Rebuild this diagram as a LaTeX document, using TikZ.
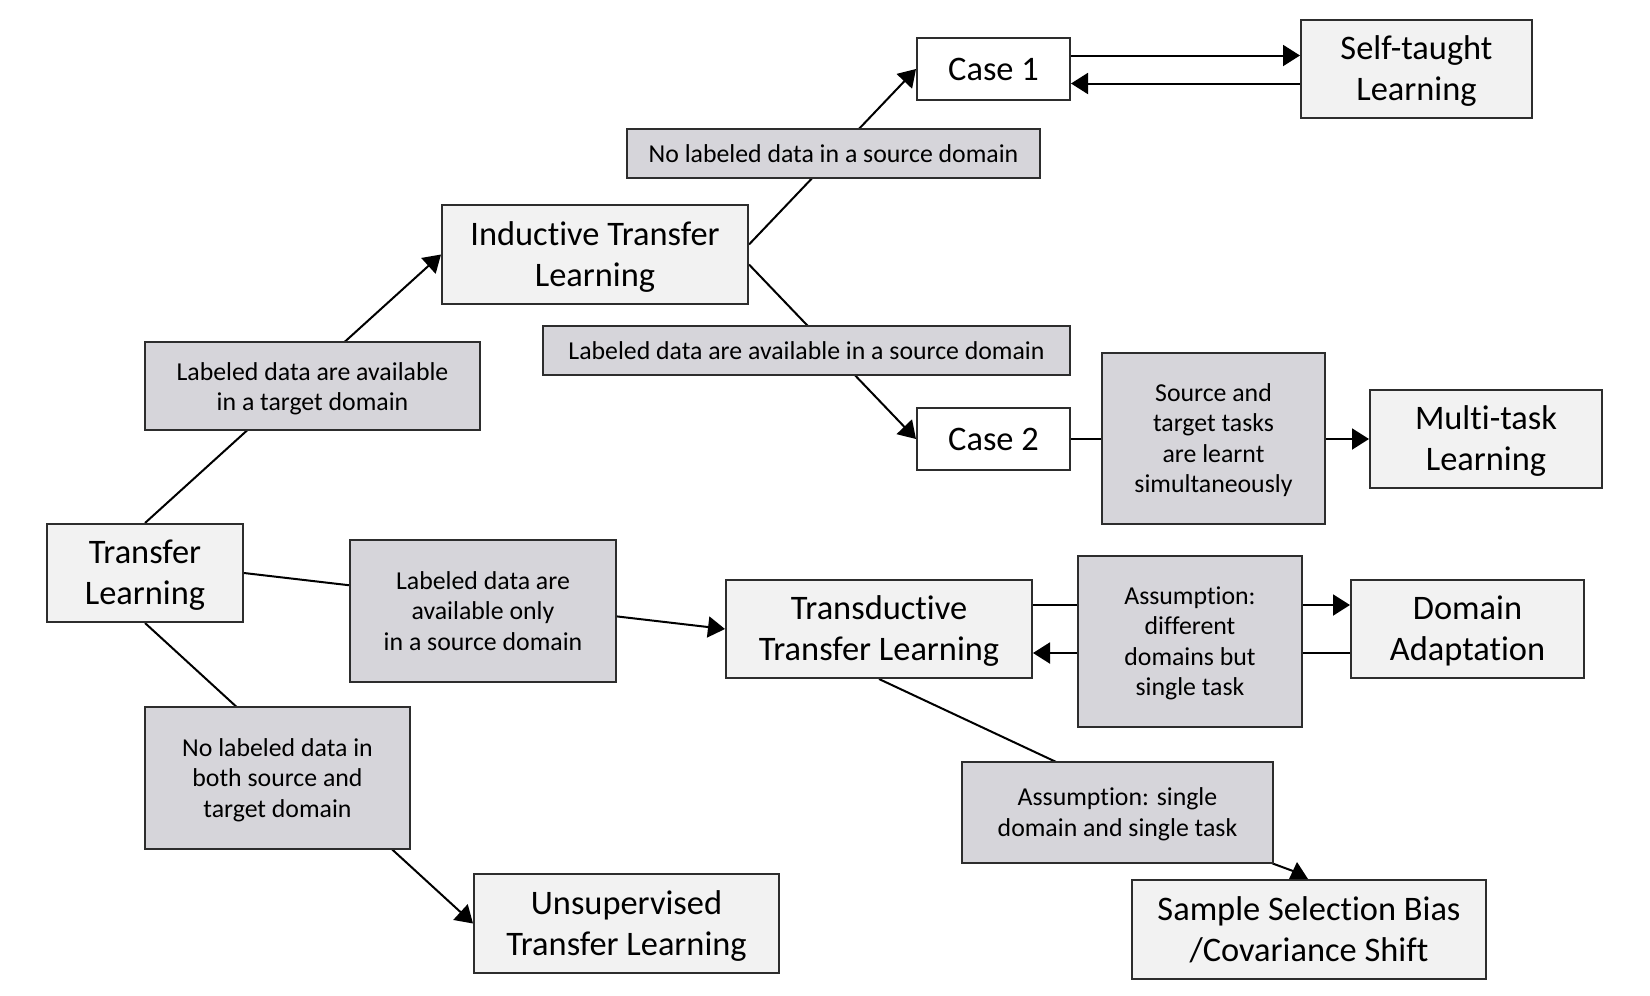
\documentclass[tikz,border=0pt]{standalone}
\usepackage{fontspec}
\setmainfont{Carlito}[Ligatures={NoCommon}]
\usetikzlibrary{arrows.meta,calc}
\pgfdeclarelayer{edges}
\pgfsetlayers{edges,main}
\definecolor{lightfill}{RGB}{242,242,242}
\definecolor{labfill}{RGB}{214,213,218}
\definecolor{bordercol}{RGB}{45,45,45}
\newcommand{\lowtext}[2]{\raisebox{-#1}[\height][\depth]{\begin{tabular}{@{}c@{}}#2\end{tabular}}}
\tikzset{
  basebox/.style={draw=bordercol, line width=1pt, align=center, inner sep=0pt},
  bigbox/.style={basebox, fill=lightfill, font=\fontsize{17.2}{20.5}\selectfont},
  casebox/.style={basebox, fill=white, font=\fontsize{17.2}{20.5}\selectfont},
  labbox/.style={basebox, fill=labfill, font=\fontsize{12.9}{15.25}\selectfont},
  conn/.style={line width=1pt, draw=black},
  arr/.style={conn, -{Triangle[length=8.5pt,width=10.5pt]}},
}
\begin{document}
\begin{tikzpicture}[x=0.5pt,y=-0.5pt]
\useasboundingbox (0,0) rectangle (1650,996);
% main boxes
\node[bigbox, minimum width=98pt, minimum height=49pt] (tl) at (145,573) {\lowtext{1.5pt}{Transfer\\Learning}};
\node[bigbox, minimum width=153pt, minimum height=49.5pt] (ind) at (595,254.5) {\lowtext{1.5pt}{Inductive Transfer\\Learning}};
\node[casebox, minimum width=76.5pt, minimum height=31pt] (case1) at (993.5,69) {Case 1};
\node[bigbox, minimum width=115.5pt, minimum height=49pt] (self) at (1416.5,69) {\lowtext{1.5pt}{Self-taught\\Learning}};
\node[casebox, minimum width=76.5pt, minimum height=31pt] (case2) at (993.5,439) {Case 2};
\node[bigbox, minimum width=116pt, minimum height=49pt] (multi) at (1486,439) {\lowtext{1.5pt}{Multi-task\\Learning}};
\node[bigbox, minimum width=153pt, minimum height=49pt] (trans) at (879,629) {\lowtext{1.5pt}{Transductive\\Transfer Learning}};
\node[bigbox, minimum width=116.5pt, minimum height=49pt] (da) at (1467.5,629) {\lowtext{1.5pt}{Domain\\Adaptation}};
\node[bigbox, minimum width=177pt, minimum height=49.5pt] (sample) at (1309,929.5) {\lowtext{1.5pt}{Sample Selection Bias\\/Covariance Shift}};
\node[bigbox, minimum width=152.5pt, minimum height=49.5pt] (unsup) at (626.5,923.5) {\lowtext{1.5pt}{Unsupervised\\Transfer Learning}};
% label boxes
\node[labbox, minimum width=167.5pt, minimum height=44pt] (lab1) at (312.5,386) {\lowtext{1.8pt}{Labeled data are available\\in a target domain}};
\node[labbox, minimum width=206.5pt, minimum height=24.5pt] (lab2) at (833.5,153.5) {No labeled data in a source domain};
\node[labbox, minimum width=263.5pt, minimum height=24.5pt] (lab3) at (806.5,350.5) {Labeled data are available in a source domain};
\node[labbox, minimum width=111.5pt, minimum height=85.5pt] (lab4) at (1213.5,438.5) {\lowtext{1.2pt}{Source and\\target tasks\\are learnt\\simultaneously}};
\node[labbox, minimum width=133pt, minimum height=71pt] (lab5) at (483,611) {\lowtext{1.2pt}{Labeled data are\\available only\\in a source domain}};
\node[labbox, minimum width=112pt, minimum height=85.5pt] (lab6) at (1190,641.5) {\lowtext{1.2pt}{Assumption:\\different\\domains but\\single task}};
\node[labbox, minimum width=155.5pt, minimum height=50.5pt] (lab7) at (1117.5,812.5) {\lowtext{1.2pt}{Assumption: single\\domain and single task}};
\node[labbox, minimum width=132.5pt, minimum height=71pt] (lab8) at (277.5,778) {\lowtext{1.2pt}{No labeled data in\\both source and\\target domain}};
% coordinates for the small arrow on Sample Selection Bias
\coordinate (sEnd) at (1293,871);
\coordinate (sApex) at (1297,862);
\coordinate (sBl) at (1289,879);
\coordinate (sBr) at (1308,879);
\begin{pgfonlayer}{edges}
\draw[arr] (tl.north) -- (ind.west);
\draw[arr] ($(ind.east)+(0,-10)$) -- (case1.west);
\draw[arr] ($(ind.east)+(0,10)$) -- (case2.west);
\draw[arr] ($(case1.east)+(0,-13.5)$) -- ($(self.west)+(0,-13.5)$);
\draw[arr] ($(self.west)+(0,14.5)$) -- ($(case1.east)+(0,14.5)$);
\draw[arr] (case2.east) -- (multi.west);
\draw[arr] (tl.east) -- (trans.west);
\draw[arr] ($(trans.east)+(0,-24)$) -- ($(da.west)+(0,-24)$);
\draw[arr] ($(da.west)+(0,24)$) -- ($(trans.east)+(0,24)$);
\draw[conn] (trans.south) -- (lab7.south east) -- (sEnd);
\draw[arr] (tl.south) -- (unsup.west);
\end{pgfonlayer}
\fill[black] (sApex) -- (sBl) -- (sBr) -- cycle;
\end{tikzpicture}
\end{document}
